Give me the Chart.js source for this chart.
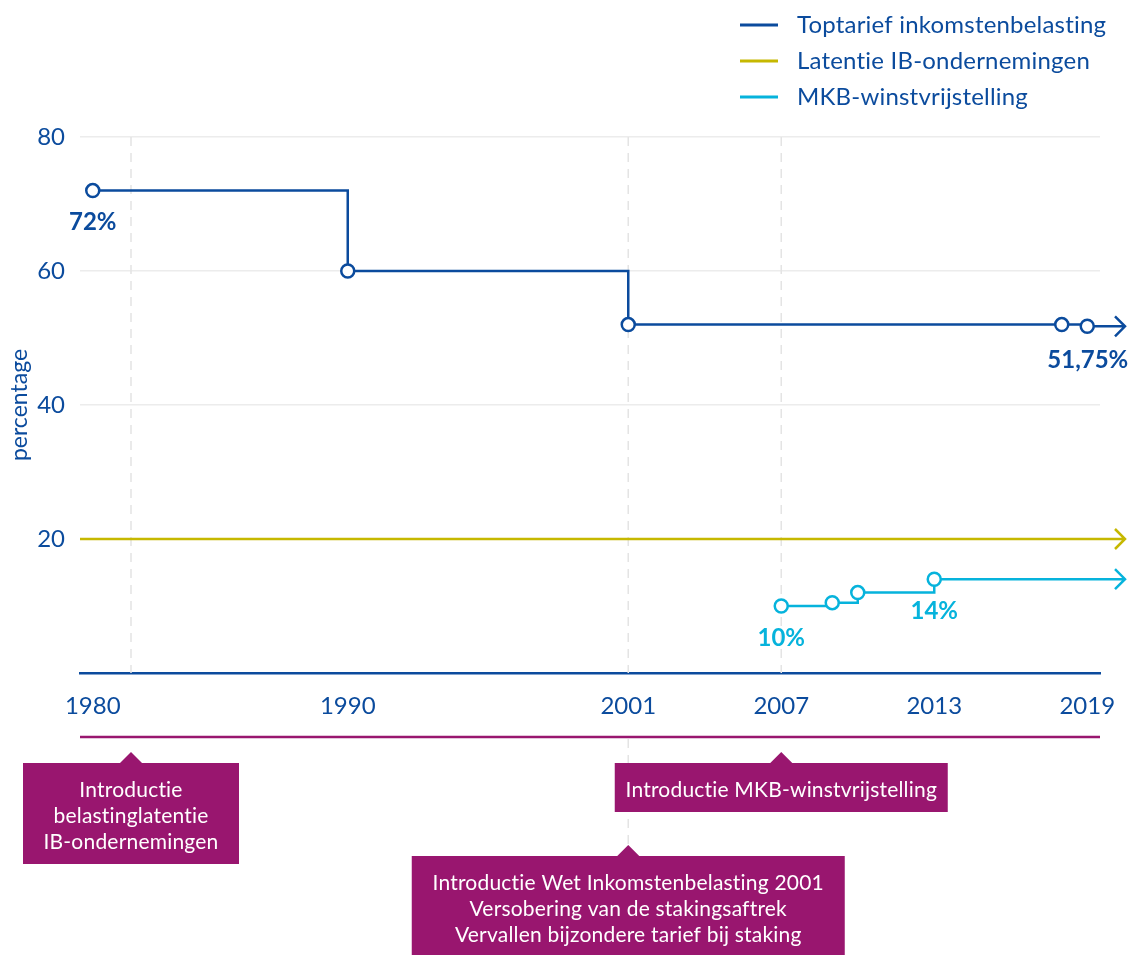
<!DOCTYPE html>
<html>
<head>
<meta charset="utf-8">
<script src="https://cdn.jsdelivr.net/npm/chart.js@4.4.1/dist/chart.umd.min.js"></script>
<style>
  html, body { margin: 0; padding: 0; background: #fff; }
  #wrap { width: 1132px; height: 955px; }
</style>
</head>
<body>
<div id="wrap"><canvas id="taxChart"></canvas></div>
<script>
// data
const topYears = [1980, 1990, 2001, 2018, 2019];
const topRates = [72, 60, 52, 52, 51.75];
const latentYears = [1979.5, 2019.5];
const latentRates = [20, 20];
const mkbYears = [2007, 2009, 2010, 2013];
const mkbRates = [10, 10.5, 12, 14];
const yearTicks = [1980, 1990, 2001, 2007, 2013, 2019];
const eventYears = [1981.5, 2007, 2001];
const eventRows = [0, 0, 1];
const eventTexts = [
  ['Introductie', 'belastinglatentie', 'IB-ondernemingen'],
  ['Introductie MKB-winstvrijstelling'],
  ['Introductie Wet Inkomstenbelasting 2001', 'Versobering van de stakingsaftrek', 'Vervallen bijzondere tarief bij staking']
];
// which points get a value label: [datasetIndex, pointIndex, align]
const valueLabels = [[0, 0, 'center'], [0, 4, 'right'], [2, 0, 'center'], [2, 3, 'center']];

const BLUE = '#0b4b9d';
const YELLOW = '#c6b800';
const CYAN = '#06b3dc';
const MAGENTA = '#99166f';
const FONT = 'Lato, "Open Sans", sans-serif';
const boxWidths = [216, 333, 433];

const toPoints = (xs, ys) => xs.map((x, i) => ({ x: x, y: ys[i] }));
const fmt = v => v.toLocaleString('nl-NL') + '%';

function boxTop(chart, i) {
  return chart.chartArea.bottom + (eventRows[i] === 0 ? 90 : 183);
}

const extras = {
  id: 'extras',
  beforeDatasetsDraw(chart) {
    const { ctx, chartArea: a, scales: { x, y } } = chart;
    ctx.save();
    // dashed event lines
    ctx.strokeStyle = '#e4e4e4';
    ctx.lineWidth = 1.5;
    ctx.setLineDash([9, 7]);
    eventYears.forEach((yr, i) => {
      const px = x.getPixelForValue(yr);
      ctx.beginPath();
      ctx.moveTo(px, a.top);
      ctx.lineTo(px, a.bottom);
      if (eventRows[i] === 1) {
        ctx.moveTo(px, a.bottom + 66);
        ctx.lineTo(px, boxTop(chart, i) - 11);
      }
      ctx.stroke();
    });
    ctx.setLineDash([]);
    // arrows continuing each series past the last point
    const endX = a.right + 25;
    chart.data.datasets.forEach(ds => {
      const last = ds.data[ds.data.length - 1];
      const px = Math.min(x.getPixelForValue(last.x), a.right);
      const py = y.getPixelForValue(last.y);
      ctx.strokeStyle = ds.borderColor;
      ctx.lineWidth = 2.5;
      ctx.beginPath();
      ctx.moveTo(px, py);
      ctx.lineTo(endX, py);
      ctx.moveTo(endX - 10, py - 10);
      ctx.lineTo(endX, py);
      ctx.lineTo(endX - 10, py + 10);
      ctx.stroke();
    });
    ctx.restore();
  },
  afterDatasetsDraw(chart) {
    const { ctx } = chart;
    ctx.save();
    ctx.font = 'bold 24px ' + FONT;
    ctx.textBaseline = 'middle';
    valueLabels.forEach(([d, p, align]) => {
      const ds = chart.data.datasets[d];
      const el = chart.getDatasetMeta(d).data[p];
      ctx.fillStyle = ds.borderColor;
      ctx.textAlign = align;
      const right = align === 'right';
      ctx.fillText(fmt(ds.data[p].y), right ? el.x + 41 : el.x, el.y + (right ? 34 : 32));
    });
    ctx.restore();
  },
  afterDraw(chart) {
    const { ctx, chartArea: a, scales: { x } } = chart;
    ctx.save();
    // magenta timeline
    ctx.strokeStyle = MAGENTA;
    ctx.lineWidth = 2.5;
    ctx.beginPath();
    ctx.moveTo(a.left, a.bottom + 64);
    ctx.lineTo(a.right, a.bottom + 64);
    ctx.stroke();
    // callouts
    ctx.font = '21px ' + FONT;
    ctx.letterSpacing = '0.2px';
    ctx.textAlign = 'center';
    ctx.textBaseline = 'middle';
    eventYears.forEach((yr, i) => {
      const lines = eventTexts[i];
      const cx = x.getPixelForValue(yr);
      const w = boxWidths[i];
      const h = lines.length * 26 + 23;
      const top = boxTop(chart, i);
      ctx.fillStyle = MAGENTA;
      ctx.beginPath();
      ctx.moveTo(cx - 11, top);
      ctx.lineTo(cx, top - 11);
      ctx.lineTo(cx + 11, top);
      ctx.closePath();
      ctx.fill();
      ctx.fillRect(cx - w / 2, top, w, h);
      ctx.fillStyle = '#fff';
      lines.forEach((l, j) => ctx.fillText(l, cx, top + 27 + j * 26));
    });
    // legend
    ctx.font = '24px ' + FONT;
    ctx.textAlign = 'left';
    chart.data.datasets.forEach((ds, i) => {
      const ly = 25 + i * 36;
      ctx.strokeStyle = ds.borderColor;
      ctx.lineWidth = 3;
      ctx.beginPath();
      ctx.moveTo(740, ly);
      ctx.lineTo(778, ly);
      ctx.stroke();
      ctx.fillStyle = BLUE;
      ctx.fillText(ds.label, 797, ly);
    });
    ctx.restore();
  }
};

const pointStyle = color => ({
  borderColor: color,
  borderWidth: 2.5,
  pointRadius: 6.5,
  pointBorderWidth: 2.5,
  pointBackgroundColor: '#fff',
  pointBorderColor: color,
  stepped: 'before',
  clip: false
});

new Chart(document.getElementById('taxChart'), {
  type: 'line',
  data: {
    datasets: [
      Object.assign({ label: 'Toptarief inkomstenbelasting', data: toPoints(topYears, topRates) }, pointStyle(BLUE)),
      { label: 'Latentie IB-ondernemingen', data: toPoints(latentYears, latentRates),
        borderColor: YELLOW, borderWidth: 2.5, pointRadius: 0, clip: false },
      Object.assign({ label: 'MKB-winstvrijstelling', data: toPoints(mkbYears, mkbRates) }, pointStyle(CYAN))
    ]
  },
  plugins: [extras],
  options: {
    responsive: true,
    maintainAspectRatio: false,
    animation: false,
    layout: { padding: { top: 137, right: 32, bottom: 0, left: 0 } },
    plugins: { legend: { display: false }, tooltip: { enabled: false } },
    scales: {
      x: {
        type: 'linear',
        min: 1979.5,
        max: 2019.5,
        afterFit: s => { s.height = 282; },
        afterBuildTicks: s => { s.ticks = yearTicks.map(v => ({ value: v })); },
        grid: { display: false },
        border: { display: true, color: BLUE, width: 2.5 },
        ticks: { color: BLUE, font: { family: FONT, size: 24 }, padding: 11, callback: v => String(v) }
      },
      y: {
        min: 0,
        max: 80,
        afterFit: s => { s.width = 80; },
        grid: { color: c => c.tick.value === 0 ? 'rgba(0,0,0,0)' : '#ececec', lineWidth: 1.5, drawTicks: false },
        border: { display: false },
        ticks: { stepSize: 20, color: BLUE, padding: 15, font: { family: FONT, size: 24 },
          callback: v => v === 0 ? '' : v },
        title: { display: true, text: 'percentage', color: BLUE, font: { family: FONT, size: 23 }, padding: { top: 6, bottom: 0 } }
      }
    }
  }
});
</script>
</body>
</html>
